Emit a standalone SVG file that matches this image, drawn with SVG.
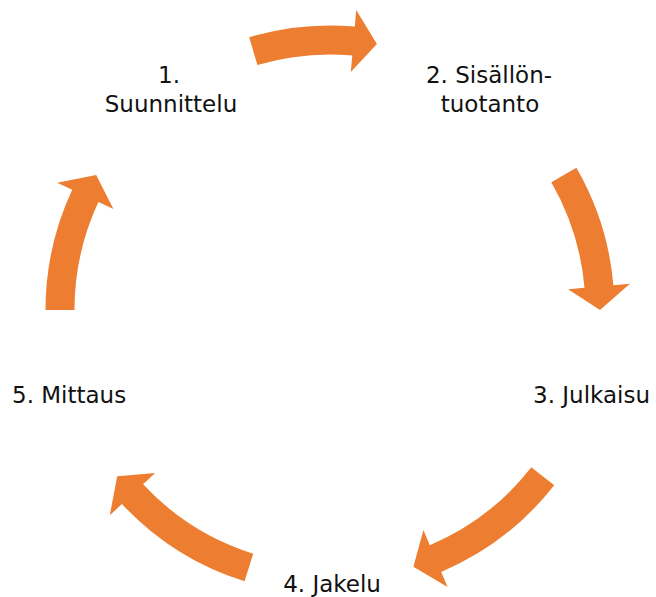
<svg xmlns="http://www.w3.org/2000/svg" width="656" height="597" viewBox="0 0 656 597">
<style>
.arrow{fill:#ED7D31;stroke:none}
.lbl{font-family:"DejaVu Sans",sans-serif;font-size:23px;fill:#111}
</style>
<rect width="656" height="597" fill="#fff"/>
<g id="connectors">
<path class="arrow" d="M249.2,37.2 A284.5,284.5 0 0 1 354.8,26.6 L356.2,10.1 L376.9,44.1 L350.8,71.9 L352.3,55.5 A255.5,255.5 0 0 0 257.4,65.0 Z"/>
<path class="arrow" d="M576.4,167.75 A284.5,284.5 0 0 1 613.4,285.2 L629.9,283.8 L600,310 L568.1,289.2 L584.5,287.7 A255.5,255.5 0 0 0 551.3,182.25 Z"/>
<path class="arrow" d="M554.2,485.2 A284.5,284.5 0 0 1 441.2,571.9 L447.6,587.1 L413.4,566.8 L423.4,530.0 L429.8,545.2 A255.5,255.5 0 0 0 531.3,467.3 Z"/>
<path class="arrow" d="M244.5,581.3 A284.5,284.5 0 0 1 121.9,504.0 L109.8,515.3 L117.2,476.2 L155.2,473.0 L143.1,484.3 A255.5,255.5 0 0 0 253.2,553.7 Z"/>
<path class="arrow" d="M45.5,310 A284.5,284.5 0 0 1 72.2,189.8 L57.2,182.8 L96.2,175 L113.4,209.0 L98.4,202.0 A255.5,255.5 0 0 0 74.5,310 Z"/>
</g>
<g id="node1"><text class="lbl" text-anchor="middle"><tspan x="169" y="83">1.</tspan><tspan x="171" y="112">Suunnittelu</tspan></text></g>
<g id="node2"><text class="lbl" text-anchor="middle"><tspan x="489" y="83">2. Sisällön-</tspan><tspan x="490" y="112">tuotanto</tspan></text></g>
<g id="node3"><text class="lbl" text-anchor="end" x="650" y="403">3. Julkaisu</text></g>
<g id="node4"><text class="lbl" text-anchor="middle" x="332" y="592">4. Jakelu</text></g>
<g id="node5"><text class="lbl" x="12" y="403">5. Mittaus</text></g>
</svg>
